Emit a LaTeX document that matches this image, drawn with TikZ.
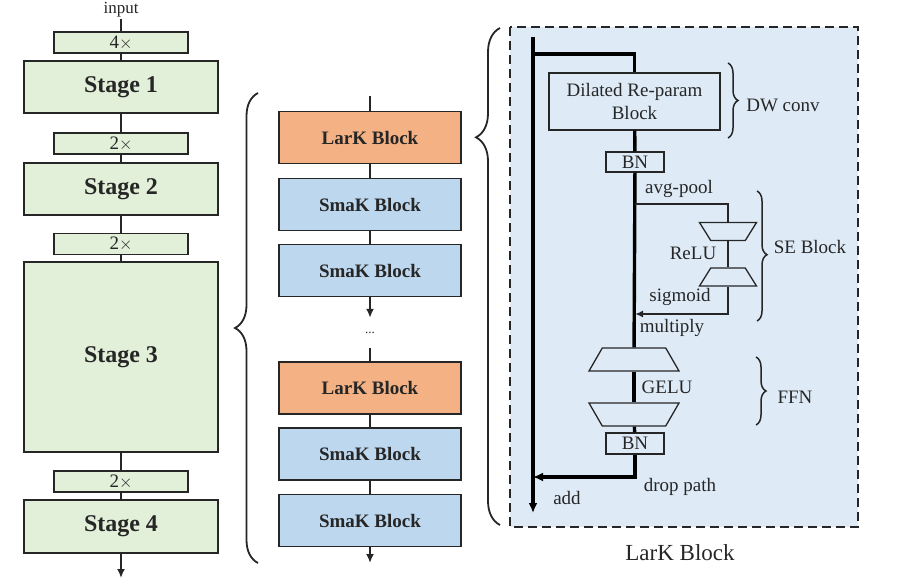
\documentclass[tikz,border=0pt]{standalone}
\usepackage{fontspec}
\setmainfont{Liberation Serif}
\usetikzlibrary{shapes.geometric}
\usetikzlibrary{arrows.meta}
\usetikzlibrary{decorations.pathreplacing}
\usepackage{xcolor}
\definecolor{stagegreen}{HTML}{E2EFD9}
\definecolor{larkorange}{HTML}{F4B183}
\definecolor{smakblue}{HTML}{BDD7EE}
\definecolor{panelblue}{HTML}{DEEBF7}
\definecolor{inkgray}{HTML}{262626}

\begin{document}
\begin{tikzpicture}[x=1pt,y=-1pt,
    every node/.style={text=inkgray},
    stagebox/.style={draw=inkgray, line width=1.8pt, fill=stagegreen, minimum width=194pt, font=\fontsize{24}{27}\selectfont\bfseries},
    downbox/.style={draw=inkgray, line width=1.8pt, fill=stagegreen, minimum width=134pt, minimum height=21pt, inner sep=0pt, font=\fontsize{19}{20}\selectfont},
    blockbox/.style={draw=inkgray, line width=1.8pt, minimum width=182pt, minimum height=52pt, font=\fontsize{19}{21}\selectfont\bfseries},
    innerbox/.style={draw=inkgray, line width=1.3pt, fill=panelblue, inner sep=0pt, font=\fontsize{19}{22}\selectfont, align=center},
    trapbox/.style={trapezium, draw=inkgray, line width=1.3pt, fill=panelblue, trapezium stretches body, inner xsep=0pt, minimum height=0pt},
    lbl/.style={font=\fontsize{19}{22}\selectfont, inner sep=1pt},
    link/.style={draw=inkgray, line width=2.6pt},
    mainline/.style={draw=black, line width=3.4pt},
    thinline/.style={draw=inkgray, line width=1.6pt},
    curly/.style={draw=inkgray, line width=1.5pt, decorate}]
    \useasboundingbox (0,0) rectangle (909,586);

    % Stages
    \node[font=\fontsize{17}{18}\selectfont, inner sep=1pt] (input) at (121,10) {input};
    \node[downbox] (down1) at (121,42.5) {4$\times$};
    \node[stagebox, minimum height=52pt] (stage1) at (121,87) {Stage 1};
    \node[downbox] (down2) at (121,143.5) {2$\times$};
    \node[stagebox, minimum height=52pt] (stage2) at (121,189) {Stage 2};
    \node[downbox] (down3) at (121,244) {2$\times$};
    \node[stagebox, minimum height=190pt] (stage3) at (121,357) {Stage 3};
    \node[downbox] (down4) at (121,481.5) {2$\times$};
    \node[stagebox, minimum height=53pt] (stage4) at (121,526.5) {Stage 4};
    \coordinate (stageout) at (121,578);

    \draw[link] (input) -- (down1);
    \draw[link] (down1) -- (stage1);
    \draw[link] (stage1) -- (down2);
    \draw[link] (down2) -- (stage2);
    \draw[link] (stage2) -- (down3);
    \draw[link] (down3) -- (stage3);
    \draw[link] (stage3) -- (down4);
    \draw[link] (down4) -- (stage4);
    \draw[link, -{Latex[length=9pt,width=8pt]}] (stage4) -- (stageout);

    % Blocks of stage 3
    \coordinate (blockin) at (370,96);
    \node[blockbox, fill=larkorange] (lark1) at (370,137.5) {LarK Block};
    \node[blockbox, fill=smakblue] (smak1) at (370,204.5) {SmaK Block};
    \node[blockbox, fill=smakblue] (smak2) at (370,270.5) {SmaK Block};
    \node[font=\fontsize{13}{13}\selectfont, inner sep=0pt, minimum height=30pt] (dots) at (370,333) {...};
    \node[blockbox, fill=larkorange] (lark2) at (370,388) {LarK Block};
    \node[blockbox, fill=smakblue] (smak3) at (370,454) {SmaK Block};
    \node[blockbox, fill=smakblue] (smak4) at (370,520.5) {SmaK Block};
    \coordinate (blockout) at (370,563);

    \draw[link] (blockin) -- (lark1);
    \draw[link] (lark1) -- (smak1);
    \draw[link] (smak1) -- (smak2);
    \draw[link, -{Latex[length=9pt,width=8pt]}] (smak2) -- (dots);
    \draw[link] (dots) -- (lark2);
    \draw[link] (lark2) -- (smak3);
    \draw[link] (smak3) -- (smak4);
    \draw[link, -{Latex[length=9pt,width=8pt]}] (smak4) -- (blockout);

    % big braces
    \draw[curly, line width=1.8pt, decoration={brace, amplitude=23pt, aspect=0.5}] (258,563) -- (258,93);
    \draw[curly, line width=1.8pt, decoration={brace, amplitude=24pt, aspect=0.78}] (500,525) -- (500,28);

    % LarK block panel
    \draw[draw=inkgray, line width=2pt, dash pattern=on 9pt off 5pt, fill=panelblue] (510,27) rectangle (858,527);
    \node[font=\fontsize{23}{26}\selectfont] (panellabel) at (680,553) {LarK Block};

    \coordinate (skiptop) at (533,37);
    \coordinate (skipsplit) at (533,54);
    \coordinate (skipend) at (533,513);
    \node[innerbox, minimum width=171pt, minimum height=57pt] (dilated) at (634.5,101.5) {Dilated Re-param\\Block};
    \node[innerbox, minimum width=58pt, minimum height=20pt] (bn1) at (635,162) {BN};
    \coordinate (sesplit) at (635,204);
    \node[trapbox, shape border rotate=180, trapezium angle=58, minimum width=57pt, inner ysep=9pt] (se1) at (728,231.5) {};
    \node[trapbox, trapezium angle=58, minimum width=57pt, inner ysep=9pt] (se2) at (728,277) {};
    \coordinate (semerge) at (635,314);
    \node[trapbox, trapezium angle=60, minimum width=90pt, inner ysep=11.5pt] (ffn1) at (634,359.5) {};
    \node[trapbox, shape border rotate=180, trapezium angle=60, minimum width=90pt, inner ysep=11.5pt] (ffn2) at (634,414.5) {};
    \node[innerbox, minimum width=58pt, minimum height=21pt] (bn2) at (635,443.5) {BN};
    \coordinate (dropjoin) at (533,477);

    \draw[mainline, -{Latex[length=10pt,width=9pt]}] (skiptop) -- (skipend);
    \draw[mainline] (skipsplit) -| (dilated);
    \draw[mainline] (dilated) -- (bn1);
    \draw[mainline] (bn1) -- (ffn1);
    \draw[thinline] (sesplit) -| (se1);
    \draw[thinline] (se1) -- (se2);
    \draw[thinline, -{Latex[length=8pt,width=7pt]}] (se2) |- (semerge);
    \draw[mainline] (ffn1) -- (ffn2);
    \draw[mainline] (ffn2) -- (bn2);
    \draw[mainline, -{Latex[length=10pt,width=9pt]}] (bn2) |- (dropjoin);

    \node[lbl] (avgpool) at (679,189) {avg-pool};
    \node[lbl] (relu) at (693,253) {ReLU};
    \node[lbl] (sigmoid) at (680,297) {sigmoid};
    \node[lbl] (multiply) at (672,328) {multiply};
    \node[lbl] (gelu) at (667,387) {GELU};
    \node[lbl] (droppath) at (680,487) {drop path};
    \node[lbl] (addlbl) at (567,498) {add};

    % side braces
    \draw[curly, decoration={brace, amplitude=10pt}] (728,63) -- (728,138);
    \node[lbl] (dwconv) at (783,105) {DW conv};
    \draw[curly, decoration={brace, amplitude=10pt, aspect=0.49}] (757,191) -- (757,321);
    \node[lbl] (seblock) at (810,247) {SE Block};
    \draw[curly, decoration={brace, amplitude=10pt}] (756,357) -- (756,425);
    \node[lbl] (ffnlbl) at (795,397) {FFN};
\end{tikzpicture}
\end{document}
